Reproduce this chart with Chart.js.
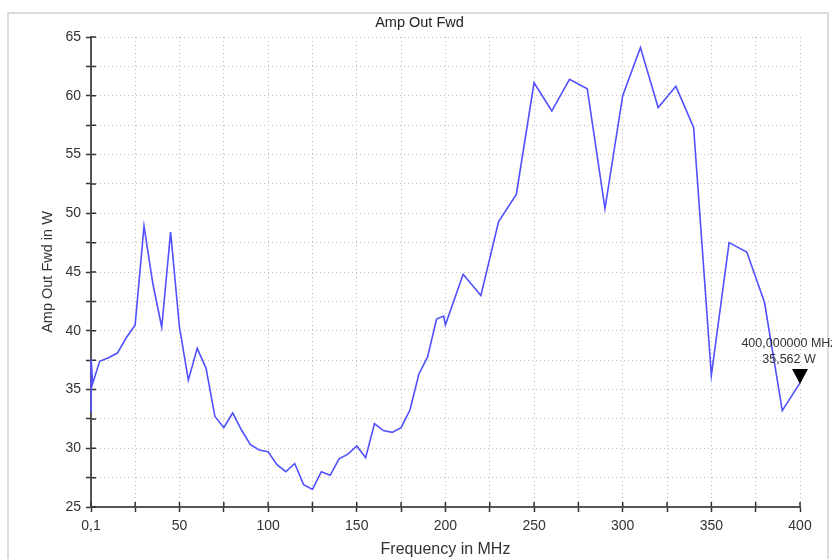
<!DOCTYPE html>
<html>
<head>
<meta charset="utf-8">
<title>Amp Out Fwd</title>
<script src="https://cdn.jsdelivr.net/npm/chart.js@4.4.1/dist/chart.umd.min.js"></script>
<style>
    body { margin: 0; background: #fff; }
    #wrap { width: 832px; height: 559px; position: relative; }
</style>
</head>
<body>
<div id="wrap"><canvas id="amp_chart"></canvas></div>
<script>
    // measured sweep, frequency in MHz / forward power in W
    const freqs = [0.1, 0.2, 1, 5, 10, 15, 20, 25, 30, 35, 40, 45, 50, 55, 60, 65, 70, 75, 80, 85,
        90, 95, 100, 105, 110, 115, 120, 125, 130, 135, 140, 145, 150, 155, 160, 165, 170, 175,
        180, 185, 190, 195, 199, 200, 210, 220, 230, 240, 250, 260, 270, 280, 290, 300, 310,
        320, 330, 340, 350, 360, 370, 380, 390, 400];
    const power = [33.1, 37.6, 35.5, 37.4, 37.7, 38.1, 39.4, 40.5, 48.9, 44.0, 40.3, 48.4, 40.3, 35.8,
        38.5, 36.8, 32.7, 31.75, 33.0, 31.55, 30.3, 29.85, 29.7, 28.6, 28.0, 28.7, 26.9, 26.5,
        28.0, 27.7, 29.1, 29.5, 30.2, 29.2, 32.1, 31.5, 31.35, 31.75, 33.25, 36.3, 37.8, 41.0,
        41.25, 40.5, 44.8, 43.0, 49.3, 51.6, 61.1, 58.7, 61.4, 60.6, 50.4, 60.0, 64.1, 59.0,
        60.8, 57.3, 36.2, 47.5, 46.7, 42.4, 33.2, 35.562];

    const xTicks = [0.1, 25, 50, 75, 100, 125, 150, 175, 200, 225, 250, 275, 300, 325, 350, 375, 400];
    const xTickLabels = ['0,1', '', '50', '', '100', '', '150', '', '200', '', '250', '', '300', '', '350', '', '400'];
    const yTicks = [25, 27.5, 30, 32.5, 35, 37.5, 40, 42.5, 45, 47.5, 50, 52.5, 55, 57.5, 60, 62.5, 65];
    const yTickLabels = ['25', '', '30', '', '35', '', '40', '', '45', '', '50', '', '55', '', '60', '', '65'];

    const markerFreq = 400;
    const markerPower = 35.562;

    const FONT = "'Liberation Sans', Arial, sans-serif";
    Chart.defaults.font.family = FONT;
    Chart.defaults.color = '#333';

    const frame = {
        id: 'frame',
        beforeDraw(chart) {
            const ctx = chart.ctx;
            ctx.save();
            ctx.strokeStyle = '#dcdcdc';
            ctx.lineWidth = 2;
            ctx.strokeRect(8, 13, 820, 600);
            ctx.restore();
        }
    };

    // tick marks cross the axis line, draw the inner half here
    const innerTicks = {
        id: 'innerTicks',
        beforeDatasetsDraw(chart) {
            const ctx = chart.ctx;
            const a = chart.chartArea;
            ctx.save();
            ctx.strokeStyle = '#333';
            ctx.lineWidth = 1.5;
            ctx.beginPath();
            xTicks.forEach(v => {
                const px = chart.scales.x.getPixelForValue(v);
                ctx.moveTo(px, a.bottom);
                ctx.lineTo(px, a.bottom - 5);
            });
            yTicks.forEach(v => {
                const py = chart.scales.y.getPixelForValue(v);
                ctx.moveTo(a.left, py);
                ctx.lineTo(a.left + 5, py);
            });
            ctx.stroke();
            ctx.restore();
        }
    };

    const marker = {
        id: 'marker',
        afterDraw(chart) {
            const ctx = chart.ctx;
            const x = chart.scales.x.getPixelForValue(markerFreq);
            const y = chart.scales.y.getPixelForValue(markerPower);
            ctx.save();
            ctx.fillStyle = '#000';
            ctx.beginPath();
            ctx.moveTo(x, y + 1);
            ctx.lineTo(x - 8, y - 14);
            ctx.lineTo(x + 8, y - 14);
            ctx.closePath();
            ctx.fill();
            ctx.fillStyle = '#333';
            ctx.font = '12.5px ' + FONT;
            ctx.textAlign = 'center';
            ctx.textBaseline = 'middle';
            ctx.fillText(markerFreq.toFixed(6).replace('.', ',') + ' MHz', x - 11, y - 39);
            ctx.fillText(markerPower.toFixed(3).replace('.', ',') + ' W', x - 11, y - 23);
            ctx.restore();
        }
    };

    const amp_chart = document.getElementById('amp_chart').getContext('2d');

    const ampchart = new Chart(amp_chart, {
        type: 'line',
        data: {
            datasets: [
                {
                    label: 'Amp Out Fwd',
                    data: freqs.map((f, i) => ({ x: f, y: power[i] })),
                    borderColor: '#5050ff',
                    borderWidth: 1.6,
                    pointRadius: 0,
                    tension: 0,
                    fill: false,
                    clip: false
                }
            ]
        },
        options: {
            responsive: true,
            maintainAspectRatio: false,
            animation: false,
            layout: {
                padding: { left: 39, right: 32, top: 0, bottom: 0 }
            },
            scales: {
                x: {
                    type: 'linear',
                    min: 0.1,
                    max: 400,
                    afterBuildTicks: s => { s.ticks = xTicks.map(v => ({ value: v })); },
                    afterFit: s => { s.height = 52; },
                    ticks: {
                        autoSkip: false,
                        maxRotation: 0,
                        padding: 6,
                        font: { size: 14 },
                        callback: (v, i) => xTickLabels[i]
                    },
                    grid: {
                        color: '#bdbdbd',
                        lineWidth: 1,
                        tickColor: '#333',
                        tickLength: 5,
                        tickWidth: 1.5
                    },
                    border: { color: '#555', width: 2, dash: [1, 3] },
                    title: {
                        display: true,
                        text: 'Frequency in MHz',
                        font: { size: 16 },
                        padding: 0
                    }
                },
                y: {
                    min: 25,
                    max: 65,
                    afterBuildTicks: s => { s.ticks = yTicks.map(v => ({ value: v })); },
                    afterFit: s => { s.width = 52; },
                    ticks: {
                        autoSkip: false,
                        padding: 5,
                        font: { size: 14 },
                        callback: (v, i) => yTickLabels[i]
                    },
                    grid: {
                        color: '#bdbdbd',
                        lineWidth: 1,
                        tickColor: '#333',
                        tickLength: 5,
                        tickWidth: 1.5
                    },
                    border: { color: '#555', width: 2, dash: [1, 3] },
                    title: {
                        display: true,
                        text: 'Amp Out Fwd in W',
                        font: { size: 14.5 },
                        padding: 0
                    }
                }
            },
            plugins: {
                legend: { display: false },
                tooltip: { enabled: false },
                title: {
                    display: true,
                    text: 'Amp Out Fwd',
                    color: '#222',
                    font: { size: 14.5, weight: 'normal' },
                    padding: { top: 14.3, bottom: 5.3 }
                }
            }
        },
        plugins: [frame, innerTicks, marker]
    });
</script>
</body>
</html>
